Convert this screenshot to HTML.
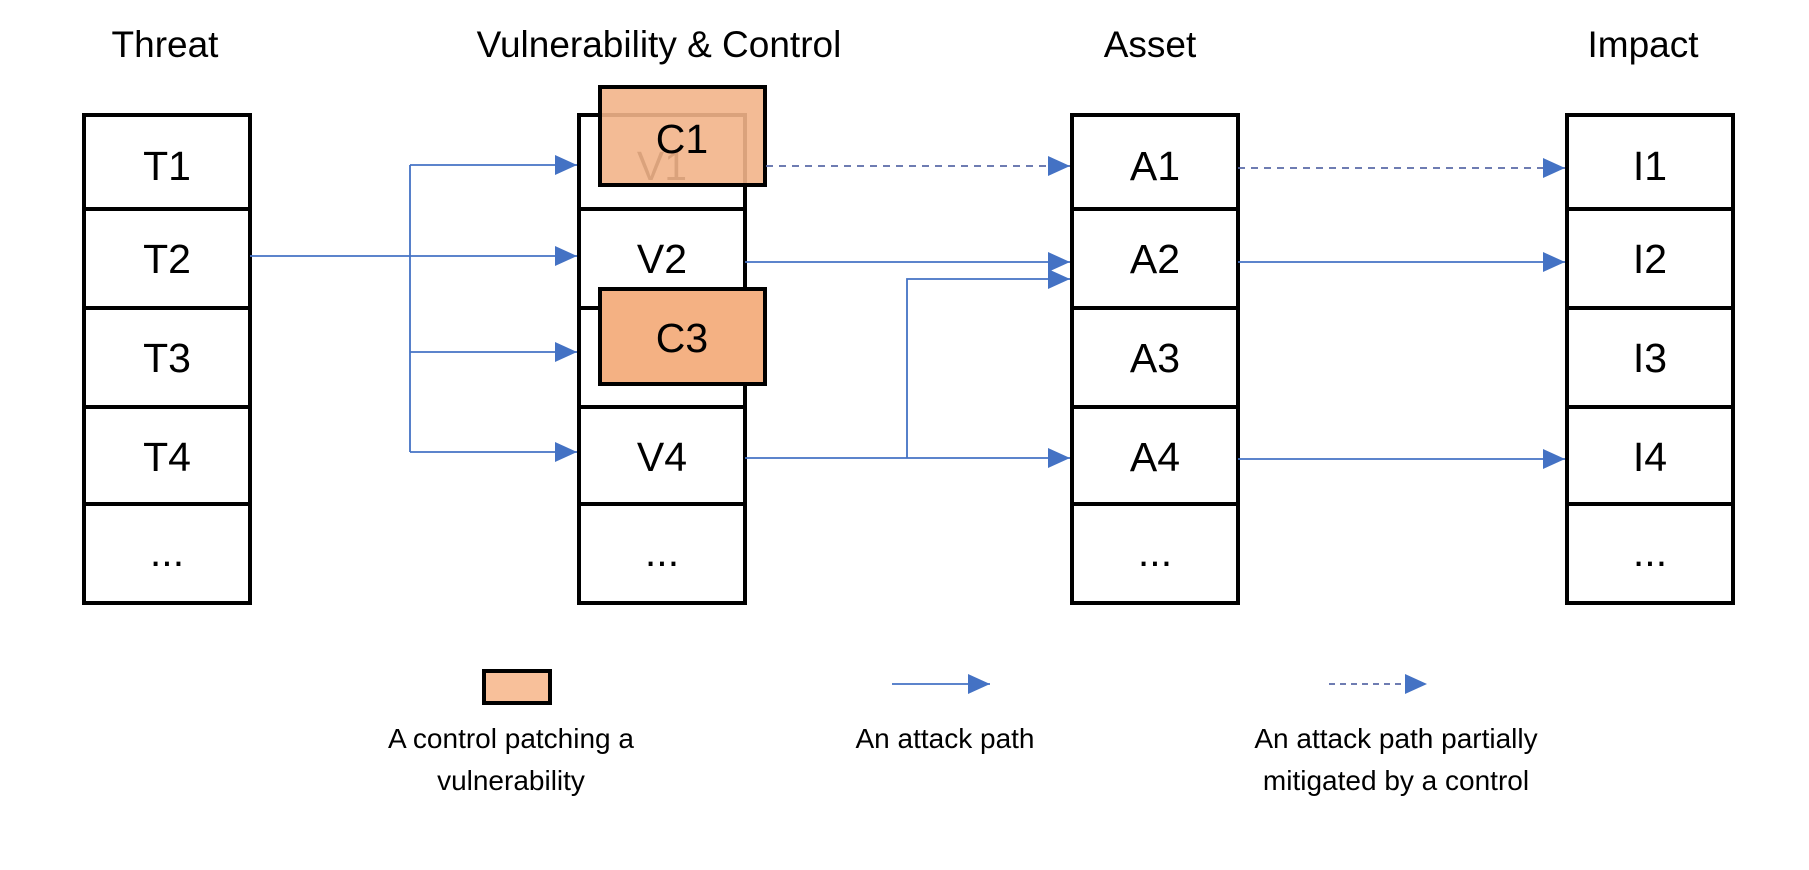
<!DOCTYPE html>
<html><head><meta charset="utf-8"><style>
html,body{margin:0;padding:0;background:#fff}
svg text{font-family:"Liberation Sans",sans-serif}
</style></head><body>
<svg width="1809" height="865" viewBox="0 0 1809 865" xmlns="http://www.w3.org/2000/svg">
<defs>
<marker id="a2" markerWidth="22" markerHeight="20" refX="22" refY="10" orient="auto" markerUnits="userSpaceOnUse">
<path d="M0,0 L22,10 L0,20 z" fill="#4472c4"/></marker>
</defs>
<g font-size="37" text-anchor="middle" fill="#000">
<text x="165" y="57">Threat</text>
<text x="659" y="57">Vulnerability &amp; Control</text>
<text x="1150" y="57">Asset</text>
<text x="1643" y="57">Impact</text>
</g>
<g fill="#fff" stroke="#000" stroke-width="4">
<rect x="84" y="115" width="166" height="488"/>
<rect x="579" y="115" width="166" height="488"/>
<rect x="1072" y="115" width="166" height="488"/>
<rect x="1567" y="115" width="166" height="488"/>
</g>
<g stroke="#000" stroke-width="4">
<line x1="84" y1="209" x2="250" y2="209"/><line x1="84" y1="308" x2="250" y2="308"/><line x1="84" y1="407" x2="250" y2="407"/><line x1="84" y1="504" x2="250" y2="504"/>
<line x1="579" y1="209" x2="745" y2="209"/><line x1="579" y1="308" x2="745" y2="308"/><line x1="579" y1="407" x2="745" y2="407"/><line x1="579" y1="504" x2="745" y2="504"/>
<line x1="1072" y1="209" x2="1238" y2="209"/><line x1="1072" y1="308" x2="1238" y2="308"/><line x1="1072" y1="407" x2="1238" y2="407"/><line x1="1072" y1="504" x2="1238" y2="504"/>
<line x1="1567" y1="209" x2="1733" y2="209"/><line x1="1567" y1="308" x2="1733" y2="308"/><line x1="1567" y1="407" x2="1733" y2="407"/><line x1="1567" y1="504" x2="1733" y2="504"/>
</g>
<g font-size="41" text-anchor="middle" fill="#000">
<text x="167" y="180">T1</text><text x="167" y="273">T2</text><text x="167" y="372">T3</text><text x="167" y="471">T4</text><text x="167" y="566">...</text>
<text x="662" y="180">V1</text><text x="662" y="273">V2</text><text x="662" y="471">V4</text><text x="662" y="566">...</text>
<text x="1155" y="180">A1</text><text x="1155" y="273">A2</text><text x="1155" y="372">A3</text><text x="1155" y="471">A4</text><text x="1155" y="566">...</text>
<text x="1650" y="180">I1</text><text x="1650" y="273">I2</text><text x="1650" y="372">I3</text><text x="1650" y="471">I4</text><text x="1650" y="566">...</text>
</g>
<rect x="600" y="87" width="165" height="98" fill="#f2b48a" fill-opacity="0.9" stroke="#000" stroke-width="4"/>
<text x="682" y="153" font-size="41" text-anchor="middle">C1</text>
<rect x="600" y="289" width="165" height="95" fill="#f4b183" stroke="#000" stroke-width="4"/>
<text x="682" y="352" font-size="41" text-anchor="middle">C3</text>
<g stroke="#4472c4" stroke-width="1.8" fill="none">
<line x1="410" y1="165" x2="410" y2="452"/>
<line x1="410" y1="165" x2="577" y2="165" marker-end="url(#a2)"/>
<line x1="250" y1="256" x2="577" y2="256" marker-end="url(#a2)"/>
<line x1="410" y1="352" x2="577" y2="352" marker-end="url(#a2)"/>
<line x1="410" y1="452" x2="577" y2="452" marker-end="url(#a2)"/>
<line x1="766" y1="166" x2="1070" y2="166" stroke-dasharray="7,6" stroke="#5a6aa8" marker-end="url(#a2)"/>
<line x1="1238" y1="168" x2="1565" y2="168" stroke-dasharray="7,6" stroke="#5a6aa8" marker-end="url(#a2)"/>
<line x1="745" y1="262" x2="1070" y2="262" marker-end="url(#a2)"/>
<line x1="1238" y1="262" x2="1565" y2="262" marker-end="url(#a2)"/>
<line x1="745" y1="458" x2="1070" y2="458" marker-end="url(#a2)"/>
<polyline points="907,458 907,279 1070,279" marker-end="url(#a2)"/>
<line x1="1238" y1="459" x2="1565" y2="459" marker-end="url(#a2)"/>
<line x1="892" y1="684" x2="990" y2="684" marker-end="url(#a2)"/>
<line x1="1329" y1="684" x2="1427" y2="684" stroke-dasharray="6,5" stroke="#5a6aa8" marker-end="url(#a2)"/>
</g>
<rect x="484" y="671" width="66" height="32" fill="#f8c09a" stroke="#000" stroke-width="4"/>
<g font-size="28" text-anchor="middle" fill="#000">
<text x="511" y="748">A control patching a</text>
<text x="511" y="790">vulnerability</text>
<text x="945" y="748">An attack path</text>
<text x="1396" y="748">An attack path partially</text>
<text x="1396" y="790">mitigated by a control</text>
</g>
</svg>
</body></html>
